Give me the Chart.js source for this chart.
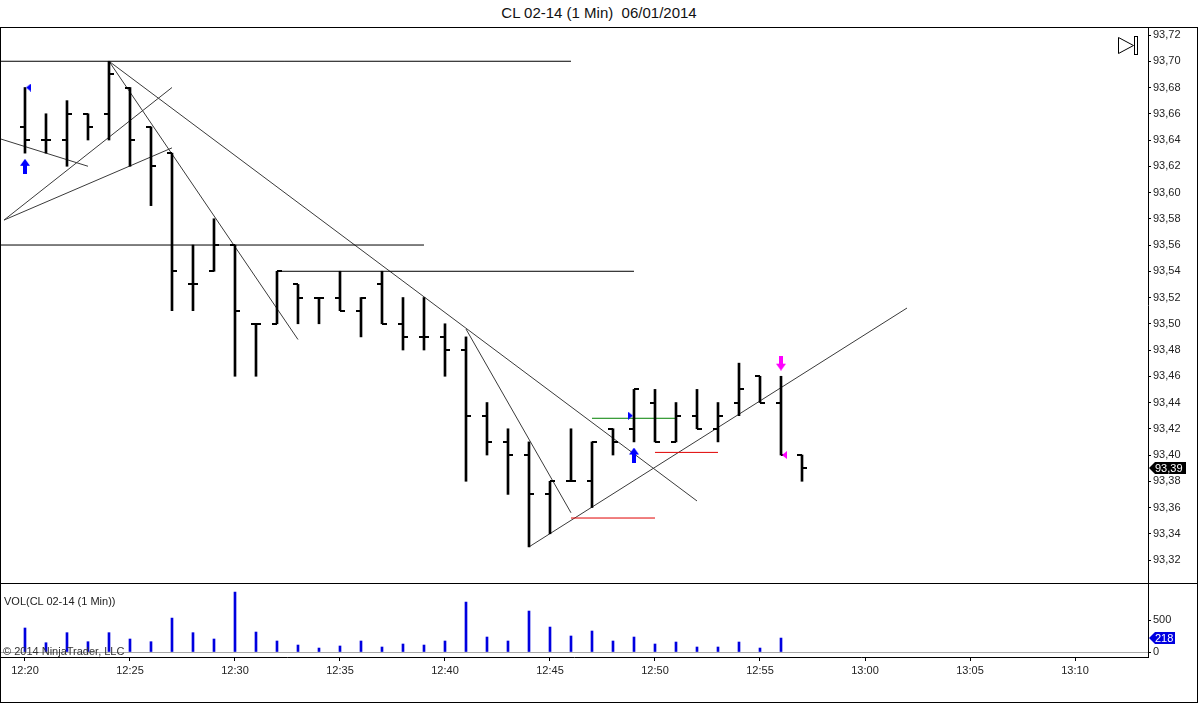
<!DOCTYPE html>
<html>
<head>
<meta charset="utf-8">
<script src="https://cdn.jsdelivr.net/npm/chart.js@4.4.1/dist/chart.umd.min.js"></script>
<style>
html,body{margin:0;padding:0;background:#fff;width:1198px;height:703px;overflow:hidden;font-family:"Liberation Sans",Arial,sans-serif;}
#title{position:absolute;left:0;top:4px;width:1198px;text-align:center;font-size:15px;line-height:18px;color:#111;}
#frame{position:absolute;left:0;top:27px;width:1198px;height:676px;box-sizing:border-box;border:1px solid #000;pointer-events:none;z-index:5;}
#sep{position:absolute;left:0;top:583px;width:1198px;height:1px;background:#000;z-index:5;}
#priceCanvas{position:absolute;left:0;top:27px;}
#volCanvas{position:absolute;left:0;top:583px;}
#vollabel{position:absolute;left:4px;top:594px;font-size:11px;line-height:14px;color:#222;z-index:6;}
#copy{position:absolute;left:3px;top:644px;font-size:11px;line-height:14px;color:#333;z-index:6;}
</style>
</head>
<body>
<div id="title">CL 02-14 (1 Min)&nbsp; 06/01/2014</div>
<canvas id="priceCanvas" width="1198" height="556"></canvas>
<canvas id="volCanvas" width="1198" height="120"></canvas>
<div id="vollabel">VOL(CL 02-14 (1 Min))</div>
<div id="copy">© 2014 NinjaTrader, LLC</div>
<div id="frame"></div>
<div id="sep"></div>
<script>
// ---------------- DATA ----------------
const times  = ['12:20','12:21','12:22','12:23','12:24','12:25','12:26','12:27','12:28','12:29',
                '12:30','12:31','12:32','12:33','12:34','12:35','12:36','12:37','12:38','12:39',
                '12:40','12:41','12:42','12:43','12:44','12:45','12:46','12:47','12:48','12:49',
                '12:50','12:51','12:52','12:53','12:54','12:55','12:56','12:57'];
const opens  = [93.65,93.64,93.64,93.66,93.66,93.68,93.65,93.63,93.53,93.54,
                93.56,93.50,93.50,93.53,93.52,93.52,93.51,93.53,93.50,93.49,
                93.49,93.48,93.43,93.41,93.40,93.37,93.38,93.38,93.42,93.42,
                93.44,93.41,93.43,93.42,93.44,93.46,93.44,93.40];
const highs  = [93.68,93.66,93.67,93.66,93.70,93.68,93.65,93.63,93.56,93.58,
                93.56,93.50,93.54,93.53,93.52,93.54,93.52,93.54,93.52,93.52,
                93.50,93.49,93.44,93.42,93.41,93.38,93.42,93.41,93.42,93.45,
                93.45,93.44,93.45,93.44,93.47,93.46,93.46,93.40];
const lows   = [93.63,93.63,93.62,93.64,93.64,93.62,93.59,93.51,93.51,93.54,
                93.46,93.46,93.50,93.50,93.50,93.51,93.49,93.50,93.48,93.48,
                93.46,93.38,93.40,93.37,93.33,93.34,93.38,93.36,93.40,93.41,
                93.41,93.41,93.42,93.41,93.43,93.44,93.40,93.38];
const closes = [93.64,93.64,93.66,93.65,93.69,93.64,93.62,93.54,93.53,93.56,
                93.51,93.50,93.54,93.52,93.52,93.51,93.52,93.50,93.49,93.49,
                93.48,93.43,93.41,93.40,93.37,93.38,93.38,93.41,93.41,93.45,
                93.41,93.43,93.42,93.43,93.45,93.44,93.40,93.39];
const volumes = [375,145,302,161,302,203,161,530,302,203,
                 936,312,172,109,62,94,172,78,125,109,
                 172,780,234,172,640,390,250,328,172,234,
                 125,156,78,78,156,62,218,null];

const priceTicks = [93.32,93.34,93.36,93.38,93.40,93.42,93.44,93.46,93.48,93.50,
                    93.52,93.54,93.56,93.58,93.60,93.62,93.64,93.66,93.68,93.70,93.72];
const volumeTicks = [0,500];
const timeTicks = ['12:20','12:25','12:30','12:35','12:40','12:45','12:50','12:55','13:00','13:05','13:10'];

// drawing objects (levels and trend lines)
const levelStart = ['12:18','12:18','12:32','12:47','12:46','12:50'];
const levelEnd   = ['12:46','12:39','12:49','12:51','12:50','12:53'];
const levelPrice = [93.70,93.56,93.54,93.428,93.352,93.402];
const levelKind  = ['level','level','level','entry','stop','stop'];

const trendStart      = ['12:18','12:19','12:19','12:24','12:24','12:41','12:44'];
const trendStartPrice = [93.645,93.579,93.579,93.70,93.70,93.496,93.33];
const trendEnd        = ['12:23','12:27','12:27','12:33','12:52','12:46','13:02'];
const trendEndPrice   = [93.62,93.68,93.634,93.488,93.365,93.356,93.512];

const markerTimes  = ['12:20','12:20','12:49','12:49','12:56','12:56'];
const markerPrices = [93.62,93.68,93.43,93.40,93.47,93.40];
const markerKinds  = ['buyArrow','buyFlag','entryFlag','buyArrow','sellArrow','sellFlag'];

// ---------------- HELPERS ----------------
const toMin = t => { const [h,m] = t.split(':').map(Number); return h*60+m; };
const BASE = toMin(times[0]);
const idx = t => toMin(t) - BASE;
const fmtPrice = v => v.toFixed(2).replace('.', ',');

function mk(w,h,draw){const c=document.createElement('canvas');c.width=w;c.height=h;const g=c.getContext('2d');draw(g);return c;}
const openTick  = mk(10,2,g=>{g.fillStyle='#000';g.fillRect(0,0,5,2);});
const closeTick = mk(10,2,g=>{g.fillStyle='#000';g.fillRect(5,0,5,2);});
function upArrow(col){return mk(10,15,g=>{g.fillStyle=col;g.beginPath();g.moveTo(5,0);g.lineTo(10,7);g.lineTo(7,7);g.lineTo(7,15);g.lineTo(3,15);g.lineTo(3,7);g.lineTo(0,7);g.closePath();g.fill();});}
function downArrow(col){return mk(10,15,g=>{g.fillStyle=col;g.beginPath();g.moveTo(5,15);g.lineTo(10,8);g.lineTo(7,8);g.lineTo(7,0);g.lineTo(3,0);g.lineTo(3,8);g.lineTo(0,8);g.closePath();g.fill();});}
function triLeft(col){return mk(14,8,g=>{g.fillStyle=col;g.beginPath();g.moveTo(8,4);g.lineTo(13,0);g.lineTo(13,8);g.closePath();g.fill();});}
function triRight(col){return mk(14,8,g=>{g.fillStyle=col;g.beginPath();g.moveTo(6,4);g.lineTo(1,0);g.lineTo(1,8);g.closePath();g.fill();});}
const BLUE='#0000ff', MAG='#ff00ff';
const markerImages = {buyArrow:upArrow(BLUE), buyFlag:triLeft(BLUE), entryFlag:triRight(BLUE), sellArrow:downArrow(MAG), sellFlag:triLeft(MAG)};
const levelStyle = {level:{c:'#000',w:1}, entry:{c:'#008000',w:1}, stop:{c:'#e00000',w:1}};

const X_MIN = -1.19, X_MAX = 53.476;
Chart.defaults.font.family = '"Liberation Sans", Arial, sans-serif';
Chart.defaults.font.size = 11;
Chart.defaults.color = '#222';
const noPad = s => { s.paddingTop = 0; s.paddingBottom = 0; s.paddingLeft = 0; s.paddingRight = 0; };

// ---------------- PRICE CHART ----------------
const datasets = [];
datasets.push({type:'line', data: markerTimes.map((t,i)=>({x:idx(t), y:markerPrices[i]})),
  showLine:false, pointStyle: markerKinds.map(k=>markerImages[k]), pointRadius:5, order:0});
datasets.push({type:'line', data: times.map((t,i)=>({x:idx(t), y:opens[i]})), showLine:false, pointStyle:openTick, pointRadius:5, order:1});
datasets.push({type:'line', data: times.map((t,i)=>({x:idx(t), y:closes[i]})), showLine:false, pointStyle:closeTick, pointRadius:5, order:1});
datasets.push({type:'bar', data: times.map((t,i)=>({x:idx(t), y:[lows[i], highs[i]]})),
  backgroundColor:'#000', borderWidth:0, barThickness:2, grouped:false, order:2});
levelPrice.forEach((p,i)=>{
  const s = levelStyle[levelKind[i]];
  datasets.push({type:'line', data:[{x:idx(levelStart[i]),y:p},{x:idx(levelEnd[i]),y:p}],
    borderColor:s.c, borderWidth:s.w, pointRadius:0, order:3});
});
trendStart.forEach((t,i)=>{
  datasets.push({type:'line', data:[{x:idx(t),y:trendStartPrice[i]},{x:idx(trendEnd[i]),y:trendEndPrice[i]}],
    borderColor:'#3a3a3a', borderWidth:1, pointRadius:0, order:3});
});

const priceDecor = {
  id:'priceDecor',
  afterDraw(chart){
    const {ctx, chartArea, scales:{y}} = chart;
    const v = closes[closes.length-1];
    const py = Math.round(y.getPixelForValue(v));
    const x0 = chartArea.right + 1;
    ctx.save();
    ctx.fillStyle = '#000';
    ctx.beginPath();
    ctx.moveTo(x0, py); ctx.lineTo(x0+6, py-6); ctx.lineTo(x0+37, py-6); ctx.lineTo(x0+37, py+6); ctx.lineTo(x0+6, py+6);
    ctx.closePath(); ctx.fill();
    ctx.fillStyle = '#fff'; ctx.font = '11px "Liberation Sans", Arial'; ctx.textBaseline = 'middle'; ctx.textAlign='left';
    ctx.fillText(fmtPrice(v), x0+6, py+0.5);
    // "go to end" icon
    ctx.strokeStyle = '#000'; ctx.lineWidth = 1;
    ctx.beginPath(); ctx.moveTo(1118.5, 10.5); ctx.lineTo(1133.5, 18.5); ctx.lineTo(1118.5, 26.5); ctx.closePath(); ctx.stroke();
    ctx.strokeRect(1134.5, 9.5, 3, 18);
    ctx.restore();
  }
};

new Chart(document.getElementById('priceCanvas'), {
  type:'bar',
  data:{datasets},
  options:{
    responsive:false, animation:false, devicePixelRatio:1, events:[],
    layout:{padding:0, autoPadding:false},
    plugins:{legend:{display:false}, tooltip:{enabled:false}, title:{display:false}},
    scales:{
      x:{type:'linear', min:X_MIN, max:X_MAX, display:false, offset:false},
      y:{type:'linear', position:'right', min:93.3025, max:93.7261,
        afterFit(s){ s.width = 50; noPad(s); },
        afterBuildTicks(s){ s.ticks = priceTicks.map(v=>({value:v})); },
        grid:{drawOnChartArea:false, drawTicks:true, tickLength:3, tickColor:'#000'},
        border:{display:true, color:'#000', width:1},
        ticks:{padding:2, autoSkip:false, color:'#222', callback:v=>fmtPrice(v)}
      }
    }
  },
  plugins:[priceDecor]
});

// ---------------- VOLUME CHART ----------------
const volDecor = {
  id:'volDecor',
  afterDraw(chart){
    const {ctx, chartArea, scales:{y}} = chart;
    let v = null;
    for (let i = volumes.length-1; i >= 0; i--) { if (volumes[i] !== null) { v = volumes[i]; break; } }
    const py = Math.round(y.getPixelForValue(v));
    const x0 = chartArea.right + 1;
    ctx.save();
    ctx.fillStyle = '#0000e0';
    ctx.beginPath();
    ctx.moveTo(x0, py); ctx.lineTo(x0+6, py-6); ctx.lineTo(x0+26, py-6); ctx.lineTo(x0+26, py+6); ctx.lineTo(x0+6, py+6);
    ctx.closePath(); ctx.fill();
    ctx.fillStyle = '#fff'; ctx.font = '11px "Liberation Sans", Arial'; ctx.textBaseline = 'middle'; ctx.textAlign='left';
    ctx.fillText(String(v), x0+6, py+0.5);
    ctx.restore();
  }
};

new Chart(document.getElementById('volCanvas'), {
  type:'bar',
  data:{datasets:[{type:'bar', data: times.map((t,i)=>({x:idx(t), y:volumes[i]})).filter(d=>d.y!==null),
    backgroundColor:'#0000e0', borderWidth:0, barThickness:2, grouped:false}]},
  options:{
    responsive:false, animation:false, devicePixelRatio:1, events:[],
    layout:{padding:0, autoPadding:false},
    plugins:{legend:{display:false}, tooltip:{enabled:false}},
    scales:{
      x:{type:'linear', min:X_MIN, max:X_MAX, offset:false, position:'bottom',
        afterFit(s){ s.height = 46; noPad(s); },
        afterBuildTicks(s){ s.ticks = timeTicks.map(t=>({value:idx(t)})); },
        grid:{drawOnChartArea:false, drawTicks:true, tickLength:4, tickColor:'#000', offset:false},
        border:{display:true, color:'#000', width:1},
        ticks:{padding:3, autoSkip:false, maxRotation:0, color:'#222',
          callback:v=>{ const t = timeTicks.find(tt=>idx(tt)===v); return t || ''; }}
      },
      y:{type:'linear', position:'right', min:-78, max:1078,
        afterFit(s){ s.width = 50; noPad(s); },
        afterBuildTicks(s){ s.ticks = volumeTicks.map(v=>({value:v})); },
        grid:{drawOnChartArea:true, drawTicks:true, tickLength:3, tickColor:'#000',
          color:c=> (c.tick && c.tick.value===0) ? '#a8a8a8' : 'rgba(0,0,0,0)'},
        border:{display:true, color:'#000', width:1},
        ticks:{padding:2, autoSkip:false, color:'#222', callback:v=>String(v)}
      }
    }
  },
  plugins:[volDecor]
});
</script>
</body>
</html>
